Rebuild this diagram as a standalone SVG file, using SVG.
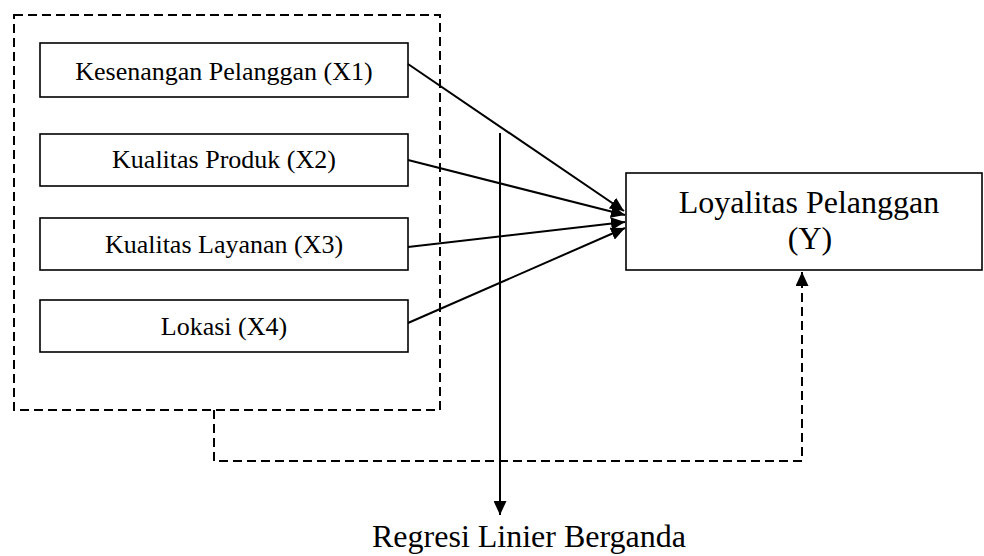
<svg xmlns="http://www.w3.org/2000/svg" width="984" height="556" viewBox="0 0 984 556">
<style>
.box{fill:#fff;stroke:#000;stroke-width:1.6}
.t{font-family:"Liberation Serif","Times New Roman",serif;fill:#000;text-anchor:middle}
.s{font-size:26px}
.l{font-size:32px}
.dash{fill:none;stroke:#000;stroke-width:2;stroke-dasharray:9,5}
.line{fill:none;stroke:#000;stroke-width:2}
</style>
<defs>
<marker id="ah" markerUnits="userSpaceOnUse" markerWidth="15" markerHeight="13" refX="14" refY="6.5" orient="auto">
<path d="M0,0 L14,6.5 L0,13 z" fill="#000"/>
</marker>
</defs>
<g id="group-x">
<rect class="dash" x="14" y="15" width="426" height="395"/>
</g>
<g id="x1"><rect class="box" x="40" y="43" width="368" height="54"/><text class="t s" x="224" y="80">Kesenangan Pelanggan (X1)</text></g>
<g id="x2"><rect class="box" x="40" y="134" width="368" height="52"/><text class="t s" x="224" y="168">Kualitas Produk (X2)</text></g>
<g id="x3"><rect class="box" x="40" y="218" width="368" height="52"/><text class="t s" x="224" y="253">Kualitas Layanan (X3)</text></g>
<g id="x4"><rect class="box" x="40" y="300" width="368" height="52"/><text class="t s" x="224" y="335">Lokasi (X4)</text></g>
<g id="y"><rect class="box" x="626" y="173" width="356" height="97"/><text class="t l" x="809" y="213">Loyalitas Pelanggan</text><text class="t l" x="810" y="249">(Y)</text></g>
<g id="regresi"><text class="t l" x="529" y="547">Regresi Linier Berganda</text></g>
<g id="connectors">
<line class="line" x1="408" y1="64" x2="624" y2="211" marker-end="url(#ah)"/>
<line class="line" x1="408" y1="160" x2="625" y2="215" marker-end="url(#ah)"/>
<line class="line" x1="408" y1="247" x2="625" y2="222" marker-end="url(#ah)"/>
<line class="line" x1="408" y1="323" x2="625" y2="228" marker-end="url(#ah)"/>
<line class="line" x1="500" y1="133" x2="500" y2="515" marker-end="url(#ah)"/>
<path class="dash" d="M214,410 L214,461 L802,461 L802,272" marker-end="url(#ah)"/>
</g>
</svg>
